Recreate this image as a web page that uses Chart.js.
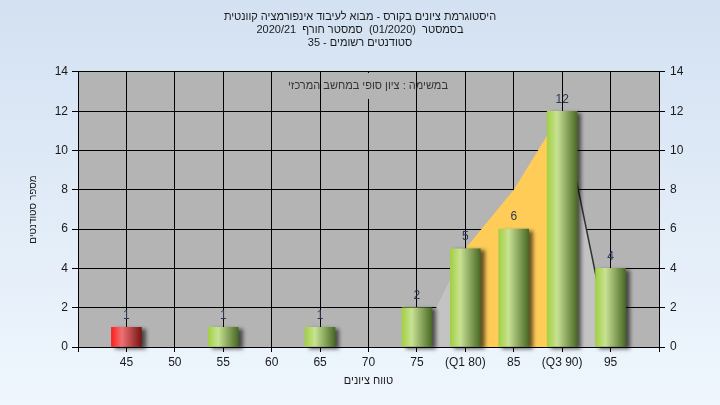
<!DOCTYPE html>
<html>
<head>
<meta charset="utf-8">
<script src="https://cdn.jsdelivr.net/npm/chart.js@4"></script>
<style>
  html, body { margin: 0; padding: 0; background: #eaf2fb; }
  #histChart { display: block; }
</style>
</head>
<body>
<canvas id="histChart" dir="rtl" width="720" height="405"></canvas>
<script>
// נתוני ההיסטוגרמה
const scores = [45, 50, 55, 60, 65, 70, 75, 80, 85, 90, 95];
const tickNames = ["45", "50", "55", "60", "65", "70", "75", "(Q1 80)", "85", "(Q3 90)", "95"];
const counts = [1, 0, 1, 0, 1, 0, 2, 5, 6, 12, 4];

// עקומת הרקע (השטח הצהוב בין Q1 ל-Q3)
const curveScores = [75, 80, 85, 90, 95];
const curveValues = [0, 5, 8, 12, 0];

const yTicksMax = 14;
const yTicksStep = 2;
const passMark = 50;

const titleLines = [
  "היסטוגרמת ציונים בקורס - מבוא לעיבוד אינפורמציה קוונטית",
  "בסמסטר  (01/2020)  סמסטר חורף  2020/21",
  "סטודנטים רשומים - 35",
];
const noteText = "במשימה : ציון סופי במחשב המרכזי";

const FONT = "'Liberation Sans', Arial, sans-serif";
const PLOT_BG = "#b4b4b4";

// צבע מדורג לעמודות (אפקט גליל)
function barGradient(c) {
  const chart = c.chart;
  const fail = scores[c.dataIndex] < passMark;
  if (!chart.chartArea || c.dataIndex === undefined) return fail ? "#e02020" : "#9ccc3c";
  const x = chart.scales.x.getPixelForValue(scores[c.dataIndex]);
  const g = chart.ctx.createLinearGradient(x - 15, 0, x + 15, 0);
  if (fail) {
    g.addColorStop(0, "#ff1e1e");
    g.addColorStop(0.35, "#ee7272");
    g.addColorStop(1, "#7a1414");
  } else {
    g.addColorStop(0, "#a2d042");
    g.addColorStop(0.33, "#c8e294");
    g.addColorStop(1, "#4a6926");
  }
  return g;
}

// רקע הדף ואזור הגרף
const backgroundPlugin = {
  id: "backgroundPlugin",
  beforeDraw(chart) {
    const { ctx, width, height, chartArea } = chart;
    ctx.save();
    const g = ctx.createLinearGradient(0, 0, 0, height);
    g.addColorStop(0, "#d3e1f2");
    g.addColorStop(1, "#eff6fd");
    ctx.fillStyle = g;
    ctx.fillRect(0, 0, width, height);
    ctx.fillStyle = PLOT_BG;
    ctx.fillRect(chartArea.left, chartArea.top, chartArea.right - chartArea.left, chartArea.bottom - chartArea.top);
    ctx.restore();
  },
};

// צל לעמודות
const shadowPlugin = {
  id: "shadowPlugin",
  beforeDatasetDraw(chart, args) {
    if (args.meta.type !== "bar") return;
    const ctx = chart.ctx;
    ctx.save();
    ctx.shadowColor = "rgba(0,0,0,0.6)";
    ctx.shadowBlur = 4;
    ctx.shadowOffsetX = 4;
    ctx.shadowOffsetY = 2;
  },
  afterDatasetDraw(chart, args) {
    if (args.meta.type !== "bar") return;
    chart.ctx.restore();
  },
};

// ערכים מעל העמודות + הערה
const labelsPlugin = {
  id: "labelsPlugin",
  afterDatasetsDraw(chart) {
    const { ctx, chartArea } = chart;
    const meta = chart.getDatasetMeta(1);
    ctx.save();
    ctx.font = "12px " + FONT;
    ctx.textAlign = "center";
    ctx.textBaseline = "middle";
    ctx.fillStyle = "#2c3a58";
    meta.data.forEach((bar, i) => {
      if (!counts[i]) return;
      ctx.fillText(String(counts[i]), bar.x, bar.y - 12);
    });
    // הערה בראש אזור הגרף
    ctx.fillStyle = PLOT_BG;
    ctx.fillRect(326, chartArea.top + 1, 88, 26);
    ctx.font = "11px " + FONT;
    ctx.fillStyle = "#333333";
    ctx.fillText(noteText, 368, chartArea.top + 14);
    ctx.restore();
  },
};

const ctx = document.getElementById("histChart").getContext("2d");

new Chart(ctx, {
  type: "bar",
  data: {
    datasets: [
      {
        type: "line",
        label: "curve",
        data: curveScores.map((s, i) => ({ x: s, y: curveValues[i] })),
        fill: "origin",
        pointRadius: 0,
        borderWidth: 1.5,
        borderColor: "rgba(0,0,0,0)",
        backgroundColor: "#c3c3c3",
        tension: 0,
        order: 2,
        segment: {
          backgroundColor: (c) => (c.p0DataIndex === 1 || c.p0DataIndex === 2 ? "#ffcc58" : "#c3c3c3"),
          borderColor: (c) => (c.p0DataIndex === 3 ? "#333333" : "rgba(0,0,0,0)"),
        },
      },
      {
        label: "students",
        // עמודות ריקות לא מצוירות (בלי צל)
        data: scores.map((s, i) => ({ x: s, y: counts[i] || null })),
        backgroundColor: barGradient,
        borderWidth: 0,
        barThickness: 30,
        order: 1,
        clip: 8,
      },
    ],
  },
  options: {
    responsive: false,
    animation: false,
    devicePixelRatio: 1,
    layout: { padding: 0 },
    plugins: {
      legend: { display: false },
      tooltip: { enabled: false },
      title: {
        display: true,
        text: titleLines,
        color: "#1a1a1a",
        font: { family: FONT, size: 11, weight: "normal", lineHeight: 1.15 },
        padding: { top: 11, bottom: 23 },
      },
    },
    scales: {
      x: {
        type: "linear",
        min: 40,
        max: 100,
        offset: false,
        grid: { offset: false, color: "#000000", tickLength: 5, tickColor: "#000000" },
        border: { color: "#000000" },
        ticks: {
          stepSize: 5,
          autoSkip: false,
          maxRotation: 0,
          padding: 3,
          color: "#1a1a1a",
          font: { family: FONT, size: 12 },
          callback: (v) => {
            const i = scores.indexOf(v);
            return i >= 0 ? tickNames[i] : "";
          },
        },
        title: {
          display: true,
          text: "טווח ציונים",
          color: "#1a1a1a",
          font: { family: FONT, size: 11 },
          padding: { top: 0, bottom: 17 },
        },
        afterFit: (axis) => { axis.height = 58; },
      },
      y: {
        position: "left",
        min: 0,
        max: yTicksMax,
        grid: { color: "#000000", tickLength: 6, tickColor: "#000000" },
        border: { color: "#000000" },
        ticks: { stepSize: yTicksStep, padding: 4, color: "#1a1a1a", font: { family: FONT, size: 12 } },
        title: {
          display: true,
          text: "מספר סטודנטים",
          color: "#1a1a1a",
          font: { family: FONT, size: 10 },
          padding: { top: 27, bottom: 0 },
        },
        afterFit: (axis) => { axis.width = 78; },
      },
      y2: {
        position: "right",
        min: 0,
        max: yTicksMax,
        grid: { drawOnChartArea: false, tickLength: 6, tickColor: "#000000" },
        border: { color: "#000000" },
        ticks: { stepSize: yTicksStep, padding: 5, color: "#1a1a1a", font: { family: FONT, size: 12 } },
        afterFit: (axis) => { axis.width = 61; },
      },
    },
  },
  plugins: [backgroundPlugin, shadowPlugin, labelsPlugin],
});
</script>
</body>
</html>
